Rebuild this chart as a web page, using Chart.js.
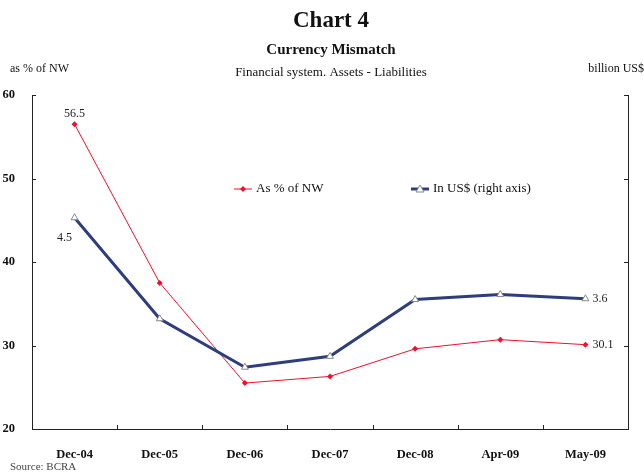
<!DOCTYPE html>
<html>
<head>
  <title>Chart 4 - Currency Mismatch</title>
  <script src="https://cdn.jsdelivr.net/npm/chart.js"></script>
  <style>
    body { margin: 0; background: #fff; }
    #wrap { position: relative; width: 644px; height: 473px; }
  </style>
</head>
<body>
<div id="wrap"><canvas id="mismatch"></canvas></div>
<script>
  const categories = ["Dec-04", "Dec-05", "Dec-06", "Dec-07", "Dec-08", "Apr-09", "May-09"];
  const pctOfNW = [56.5, 37.5, 25.5, 26.3, 29.6, 30.7, 30.1];
  const inUSD = [4.53, 3.32, 2.74, 2.87, 3.55, 3.61, 3.56];
  const leftTicks = [20, 30, 40, 50, 60];
  const rightTicks = [2, 3, 4, 5, 6];

  const serif = "'Liberation Serif', 'Times New Roman', serif";
  const RED = '#f0102e';
  const BLUE = '#2e3d7c';

  // titles, legend, value labels and inward tick marks
  const decor = {
    id: 'decor',
    afterDraw(chart) {
      const c = chart.ctx;
      const area = chart.chartArea;
      const mid = (area.left + area.right) / 2;
      c.save();
      c.fillStyle = '#111';
      c.textBaseline = 'middle';
      c.textAlign = 'center';
      c.font = 'bold 23px ' + serif;
      c.fillText('Chart 4', mid + 1, 21);
      c.font = 'bold 15px ' + serif;
      c.fillText('Currency Mismatch', mid + 1, 50);
      c.font = '13px ' + serif;
      c.fillText('Financial system. Assets - Liabilities', mid + 1, 73);
      c.font = '12px ' + serif;
      c.textAlign = 'left';
      c.fillText('as % of NW', 10, 69);
      c.textAlign = 'right';
      c.fillText('billion US$', 644, 69);
      c.textAlign = 'left';
      c.font = '11px ' + serif;
      c.fillStyle = '#444';
      c.fillText('Source: BCRA', 10, 467);

      // inward tick marks
      c.strokeStyle = '#222';
      c.lineWidth = 1;
      const x = chart.scales.x, y = chart.scales.y, y1 = chart.scales.y1;
      c.beginPath();
      for (let i = 1; i < categories.length; i++) {
        const px = Math.round(x.getPixelForValue(i - 0.5)) + 0.5;
        c.moveTo(px, area.bottom);
        c.lineTo(px, area.bottom - 4);
      }
      leftTicks.forEach(v => {
        const py = Math.round(y.getPixelForValue(v)) + 0.5;
        c.moveTo(area.left, py);
        c.lineTo(area.left + 4, py);
      });
      rightTicks.forEach(v => {
        const py = Math.round(y1.getPixelForValue(v)) + 0.5;
        c.moveTo(area.right, py);
        c.lineTo(area.right - 4, py);
      });
      c.stroke();

      // legend
      const ly = 189;
      c.font = '13px ' + serif;
      c.fillStyle = '#111';
      c.textAlign = 'left';
      c.strokeStyle = RED;
      c.lineWidth = 1;
      c.beginPath(); c.moveTo(234, ly); c.lineTo(252, ly); c.stroke();
      c.fillStyle = RED;
      c.beginPath(); c.moveTo(243, ly - 3); c.lineTo(246, ly); c.lineTo(243, ly + 3); c.lineTo(240, ly); c.closePath(); c.fill();
      c.fillStyle = '#111';
      c.fillText('As % of NW', 256, ly);
      c.strokeStyle = BLUE;
      c.lineWidth = 3;
      c.beginPath(); c.moveTo(411, ly); c.lineTo(429, ly); c.stroke();
      c.fillStyle = '#fff';
      c.strokeStyle = '#888';
      c.lineWidth = 1;
      c.beginPath(); c.moveTo(420, ly - 4); c.lineTo(424, ly + 3); c.lineTo(416, ly + 3); c.closePath(); c.fill(); c.stroke();
      c.fillStyle = '#111';
      c.fillText('In US$ (right axis)', 433, ly);

      // value labels
      const redMeta = chart.getDatasetMeta(0).data;
      const blueMeta = chart.getDatasetMeta(1).data;
      const last = categories.length - 1;
      c.font = '12px ' + serif;
      c.fillStyle = '#222';
      c.textAlign = 'center';
      c.fillText(pctOfNW[0].toFixed(1), redMeta[0].x, redMeta[0].y - 10);
      c.fillText(inUSD[0].toFixed(1), blueMeta[0].x - 10, blueMeta[0].y + 20);
      c.textAlign = 'left';
      c.fillText(inUSD[last].toFixed(1), blueMeta[last].x + 7, blueMeta[last].y);
      c.fillText(pctOfNW[last].toFixed(1), redMeta[last].x + 7, redMeta[last].y);
      c.restore();
    }
  };

  const ctx = document.getElementById('mismatch').getContext('2d');
  const chart = new Chart(ctx, {
    type: 'line',
    data: {
      labels: categories,
      datasets: [{
        label: 'As % of NW',
        data: pctOfNW,
        yAxisID: 'y',
        borderColor: RED,
        backgroundColor: RED,
        borderWidth: 1,
        pointStyle: 'rectRot',
        pointRadius: 3,
        pointBorderWidth: 0,
        order: 1,
        tension: 0
      }, {
        label: 'In US$ (right axis)',
        data: inUSD,
        yAxisID: 'y1',
        borderColor: BLUE,
        borderWidth: 3,
        pointStyle: 'triangle',
        pointRadius: 4,
        pointBackgroundColor: '#fff',
        pointBorderColor: '#888',
        pointBorderWidth: 1,
        order: 0,
        tension: 0
      }]
    },
    options: {
      responsive: true,
      maintainAspectRatio: false,
      animation: false,
      events: [],
      layout: { padding: { top: 95, left: 0, right: 0, bottom: 0 } },
      plugins: {
        legend: { display: false },
        tooltip: { enabled: false }
      },
      scales: {
        x: {
          offset: true,
          grid: { display: false, offset: true },
          border: { display: true, color: '#222', width: 1 },
          ticks: { color: '#111', font: { family: serif, size: 12.5, weight: 'bold' }, padding: 10, maxRotation: 0 },
          afterFit(s) { s.height = 44; }
        },
        y: {
          position: 'left',
          min: 20, max: 60,
          grid: { display: false },
          border: { display: true, color: '#222', width: 1 },
          ticks: { stepSize: 10, color: '#111', font: { family: serif, size: 12.5, weight: 'bold' }, padding: 9 },
          afterFit(s) { s.width = 32; }
        },
        y1: {
          position: 'right',
          min: 2, max: 6,
          grid: { display: false },
          border: { display: true, color: '#222', width: 1 },
          ticks: { stepSize: 1, color: '#111', font: { family: serif, size: 12.5, weight: 'bold' }, padding: 9 },
          afterFit(s) { s.width = 16; }
        }
      }
    },
    plugins: [decor]
  });
</script>
</body>
</html>
